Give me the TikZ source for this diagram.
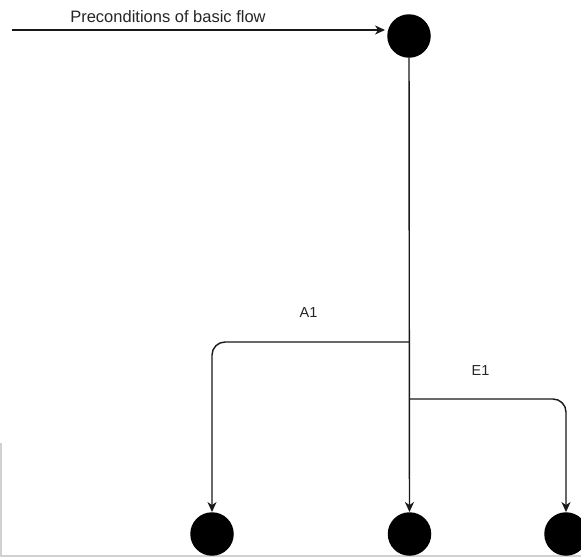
\documentclass[tikz,border=0pt]{standalone}
\usepackage{fontspec}
\setmainfont{Liberation Sans}
\usetikzlibrary{arrows.meta}
\begin{document}
\begin{tikzpicture}[x=1pt,y=-1pt,
  dot/.style={circle,fill=black,draw=none,minimum size=43.5pt,inner sep=0pt},
  flow/.style={draw=black!90,line width=1.4pt,-{Stealth[length=10pt,width=9pt,inset=3pt]}},
  lbl/.style={text=black!85,inner sep=0pt,font=\fontsize{14.5}{16}\selectfont},
  frame/.style={draw=black!18,line width=1.6pt}]
\useasboundingbox (0,0) rectangle (581,557);
\fill[white] (0,0) rectangle (581,557);
% faint screenshot border
\draw[frame] (1,443) -- (1,557);
\draw[frame] (0,556) -- (581,556);
% nodes
\node[dot] (top) at (409,36) {};
\node[dot] (b1) at (212,534) {};
\node[dot] (b2) at (409.5,534) {};
\node[dot] (b3) at (566,534) {};
\coordinate (s) at (12,30);
\coordinate (jA) at (409,342);
\coordinate (jE) at (409,399);
% connectors
\draw[flow,shorten >=2pt] (s) -- (s -| top.west);
\draw[flow] (top) -- (b2);
\draw[flow,rounded corners=13pt] (jA) -| (b1);
\draw[flow,rounded corners=13pt] (jE) -| (b3);
% labels
\node[lbl,font=\fontsize{16.5}{18}\selectfont] (pre) at (168,17) {Preconditions of basic flow};
\node[lbl] (la) at (308.5,313) {A1};
\node[lbl] (le) at (480.5,371) {E1};
\end{tikzpicture}
\end{document}
